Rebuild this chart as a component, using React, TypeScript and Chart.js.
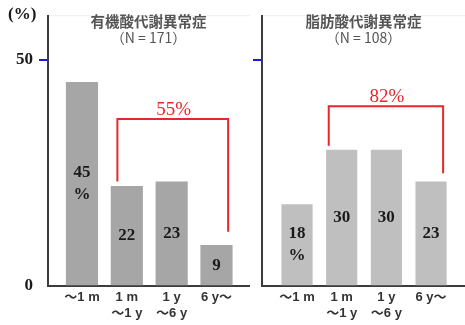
import { useEffect, useRef } from 'react';
import { Chart, registerables } from 'chart.js';

Chart.register(...registerables);

// ---- data ----
const xTickLabels: (string | string[])[] = ['～1 m', ['1 m', '～1 y'], ['1 y', '～6 y'], '6 y～'];
const xTickValues = [0, 1, 2, 3];
const organicValues = [45, 22, 23, 9];
const fattyValues = [18, 30, 30, 23];
const yTickValues = [0, 50];
const organicTitle = ['有機酸代謝異常症', '（N = 171）'];
const fattyTitle = ['脂肪酸代謝異常症', '（N = 108）'];
const unitLabel = '(%)';
// bracket annotations: category span, shifts in category units, heights in % units
const organicBracket = { from: 1, to: 3, fromShift: -0.21, toShift: 0.26, level: 36.9, fromEnd: 23.1, toEnd: 12.0, text: '55%' };
const fattyBracket = { from: 1, to: 3, fromShift: -0.29, toShift: 0.27, level: 39.7, fromEnd: 31.0, toEnd: 24.9, text: '82%' };

const SERIF = '"Liberation Serif", "Times New Roman", serif';
const SANS = '"Liberation Sans", Arial, "Noto Sans CJK JP", sans-serif';
const CJK = '"Noto Sans CJK JP", "Noto Sans", sans-serif';

type Bracket = typeof organicBracket;

interface PanelSpec {
  values: number[];
  title: string[];
  bracket: Bracket;
  color: string;
  xMin: number;
  xMax: number;
  barThickness: number;
  axisWidth: number;
  showYLabels: boolean;
  showUnit: boolean;
  padRight: number;
  faintRight: boolean;
}

function makeChart(canvas: HTMLCanvasElement, p: PanelSpec) {
  const labelPlugin = {
    id: 'panelDecor' + Math.random().toString(36).slice(2),
    beforeDraw(chart: any) {
      const { ctx, width, height, chartArea } = chart;
      ctx.save();
      ctx.fillStyle = '#ffffff';
      ctx.fillRect(0, 0, width, height);
      ctx.strokeStyle = '#eeeeee';
      ctx.lineWidth = 1;
      ctx.beginPath();
      ctx.moveTo(chartArea.left, chartArea.top - 0.5);
      ctx.lineTo(chartArea.right + 1, chartArea.top - 0.5);
      if (p.faintRight) {
        ctx.moveTo(chartArea.right + 1.5, chartArea.top - 0.5);
        ctx.lineTo(chartArea.right + 1.5, height);
      }
      ctx.stroke();
      ctx.restore();
    },
    afterDatasetsDraw(chart: any) {
      const { ctx } = chart;
      const meta = chart.getDatasetMeta(0);
      const xs = chart.scales.x;
      const ys = chart.scales.y;
      ctx.save();
      // value labels inside bars
      ctx.fillStyle = '#1a1a1a';
      ctx.font = `bold 17px ${SERIF}`;
      ctx.textAlign = 'center';
      ctx.textBaseline = 'middle';
      meta.data.forEach((bar: any, i: number) => {
        const lines = i === 0 ? [String(p.values[i]), '%'] : [String(p.values[i])];
        const cy = (bar.y + bar.base) / 2;
        const gap = 22;
        const start = cy - ((lines.length - 1) * gap) / 2;
        lines.forEach((t, k) => ctx.fillText(t, bar.x, start + k * gap));
      });
      // red bracket
      const b = p.bracket;
      const x1 = xs.getPixelForValue(b.from + b.fromShift);
      const x2 = xs.getPixelForValue(b.to + b.toShift);
      const yl = ys.getPixelForValue(b.level);
      ctx.strokeStyle = '#e8262b';
      ctx.lineWidth = 2;
      ctx.beginPath();
      ctx.moveTo(x1, ys.getPixelForValue(b.fromEnd));
      ctx.lineTo(x1, yl);
      ctx.lineTo(x2, yl);
      ctx.lineTo(x2, ys.getPixelForValue(b.toEnd));
      ctx.stroke();
      ctx.fillStyle = '#e8262b';
      ctx.font = `19px ${SERIF}`;
      ctx.textBaseline = 'alphabetic';
      ctx.fillText(b.text, (x1 + x2) / 2 + 1, yl - 4);
      ctx.restore();
    },
    afterDraw(chart: any) {
      const { ctx, chartArea } = chart;
      ctx.save();
      const cx = (chartArea.left + chartArea.right) / 2;
      ctx.textAlign = 'center';
      ctx.textBaseline = 'middle';
      ctx.fillStyle = '#555555';
      ctx.font = `bold 14.5px ${CJK}`;
      ctx.fillText(p.title[0], cx, 21);
      ctx.font = `14px ${CJK}`;
      ctx.fillText(p.title[1], cx, 38);
      if (p.showUnit) {
        ctx.fillStyle = '#1a1a1a';
        ctx.textAlign = 'left';
        ctx.font = `bold 17px ${SERIF}`;
        ctx.fillText(unitLabel, 8, 15);
      }
      ctx.restore();
    },
  };

  return new Chart(canvas, {
    type: 'bar',
    data: {
      datasets: [
        {
          data: p.values.map((v, i) => ({ x: xTickValues[i], y: v })),
          backgroundColor: p.color,
          borderWidth: 0,
          barThickness: p.barThickness,
        } as any,
      ],
    },
    options: {
      animation: false,
      responsive: false,
      devicePixelRatio: 1,
      events: [],
      layout: { padding: { top: 13, right: p.padRight, left: 0, bottom: 0 } },
      plugins: { legend: { display: false }, tooltip: { enabled: false }, title: { display: false } },
      scales: {
        x: {
          type: 'linear',
          offset: false,
          min: p.xMin,
          max: p.xMax,
          afterBuildTicks: (s: any) => {
            s.ticks = xTickValues.map((v) => ({ value: v }));
          },
          afterFit: (s: any) => {
            s.height = 39;
          },
          ticks: {
            autoSkip: false,
            maxRotation: 0,
            minRotation: 0,
            padding: 4,
            color: '#333333',
            font: { family: SANS, weight: 'bold', size: 13, lineHeight: 1.2 },
            callback: (v: any) => xTickLabels[xTickValues.indexOf(Number(v))] as any,
          },
          grid: { display: false, drawTicks: false, offset: false },
          border: { display: true, color: '#3c3c3c', width: 2 },
        },
        y: {
          min: 0,
          max: 59.6,
          afterBuildTicks: (s: any) => {
            s.ticks = yTickValues.map((v) => ({ value: v }));
          },
          afterFit: (s: any) => {
            s.width = p.axisWidth;
          },
          ticks: {
            padding: 6,
            color: p.showYLabels ? '#1a1a1a' : 'rgba(0,0,0,0)',
            font: { family: SERIF, weight: 'bold', size: 17 },
            callback: (v: any) => String(v),
          },
          grid: {
            drawOnChartArea: false,
            drawTicks: true,
            tickLength: 9,
            lineWidth: 2,
            color: (c: any) => (c.tick && c.tick.value === 50 ? '#1a1adf' : 'rgba(0,0,0,0)'),
          },
          border: { display: true, color: '#3c3c3c', width: 2 },
        },
      },
    } as any,
    plugins: [labelPlugin as any],
  });
}

export default function App() {
  const leftRef = useRef<HTMLCanvasElement>(null);
  const rightRef = useRef<HTMLCanvasElement>(null);

  useEffect(() => {
    const left = makeChart(leftRef.current!, {
      values: organicValues,
      title: organicTitle,
      bracket: organicBracket,
      color: '#a6a6a6',
      xMin: -0.758,
      xMax: 3.725,
      barThickness: 31.5,
      axisWidth: 48,
      showYLabels: true,
      showUnit: true,
      padRight: 1,
      faintRight: true,
    });
    const right = makeChart(rightRef.current!, {
      values: fattyValues,
      title: fattyTitle,
      bracket: fattyBracket,
      color: '#bfbfbf',
      xMin: -0.784,
      xMax: 3.76,
      barThickness: 30.5,
      axisWidth: 12,
      showYLabels: false,
      showUnit: false,
      padRight: 0,
      faintRight: false,
    });
    return () => {
      left.destroy();
      right.destroy();
    };
  }, []);

  return (
    <div style={{ position: 'fixed', left: 0, top: 0, width: 465, height: 325, background: '#fff' }}>
      <canvas ref={leftRef} width={250} height={325} style={{ position: 'absolute', left: 0, top: 0 }} />
      <canvas ref={rightRef} width={215} height={325} style={{ position: 'absolute', left: 250, top: 0 }} />
    </div>
  );
}
